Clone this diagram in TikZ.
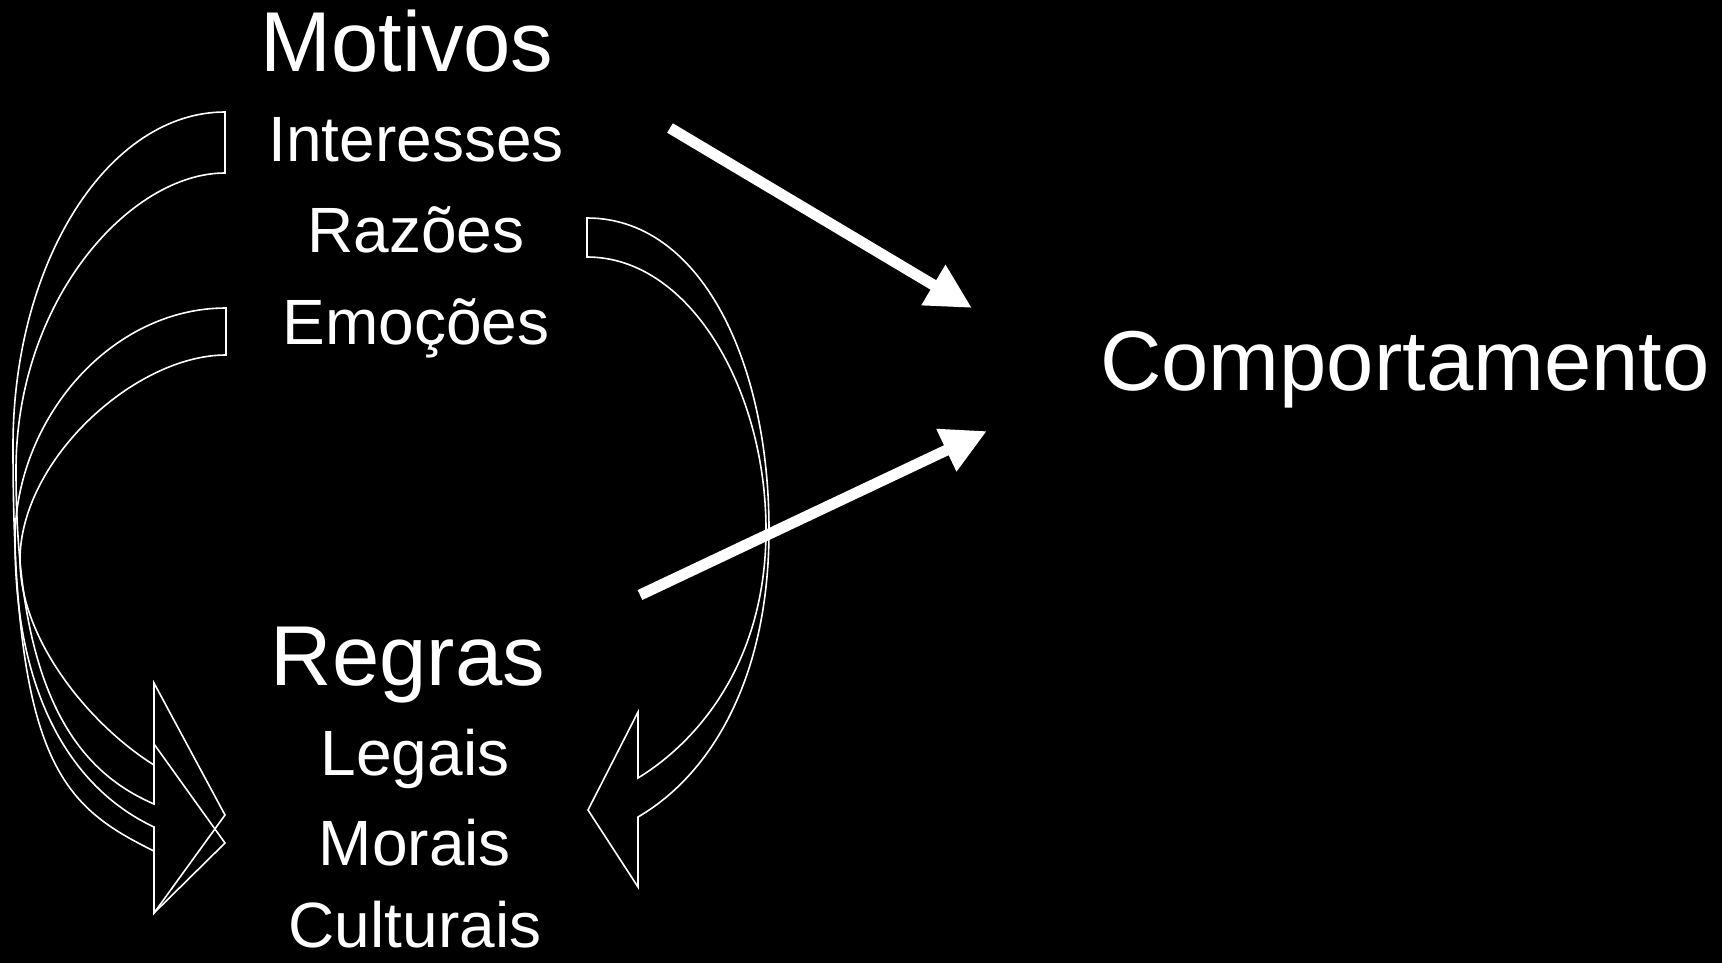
\documentclass[tikz,border=0pt]{standalone}
\usepackage{fontspec}
\setmainfont{Liberation Sans}
\usetikzlibrary{arrows.meta}

\begin{document}
\begin{tikzpicture}[x=0.5pt,y=-0.5pt,
  every node/.style={text=white,inner sep=0pt,anchor=base},
  big/.style={font=\fontsize{42.5}{50}\selectfont},
  small/.style={font=\fontsize{32}{38}\selectfont},
  curvearrow/.style={draw=white,line width=0.8pt},
  push/.style={draw=white,line width=5.5pt,-{Triangle[width=22pt,length=22.5pt]}}]
\fill[black] (0,0) rectangle (1722,963);

\node[big] (motivos) at (407,72) {Motivos};
\foreach \n/\t/\y in {inter/Interesses/162,razoes/Razões/252,emocoes/Emoções/344}
  \node[small] (\n) at (416,\y) {\t};
\node[big] (regras) at (408,685) {Regras};
\foreach \n/\t/\y in {legais/Legais/775,morais/Morais/865,culturais/Culturais/947}
  \node[small] (\n) at (415,\y) {\t};
\node[big] (comp) at (1405,390) {Comportamento};

\coordinate (m-out) at (670,128);
\coordinate (m-in) at (972,308);
\coordinate (r-out) at (640,595);
\coordinate (r-in) at (987,431);
\draw[push] (m-out) -- (m-in);
\draw[push] (r-out) -- (r-in);

% Razoes -> Legais/Morais
\draw[curvearrow] (587,218) -- (587,257)
  .. controls (690,257) and (766,390) .. (766,530)
  .. controls (766,660) and (700,740) .. (638,778)
  -- (638,712) -- (588,810) -- (638,887) -- (638,817)
  .. controls (710,775) and (769,680) .. (769,530)
  .. controls (769,360) and (700,218) .. (587,218) -- cycle;
% Interesses -> Morais
\draw[curvearrow] (225,112) -- (225,173)
  .. controls (130,173) and (16,300) .. (16,470)
  .. controls (16,690) and (75,770) .. (154,804)
  -- (154,744) -- (225,843) -- (154,913) -- (154,851)
  .. controls (60,805) and (13,760) .. (13,446)
  .. controls (13,262) and (108,112) .. (225,112) -- cycle;
% Emocoes -> Morais
\draw[curvearrow] (226,308) -- (226,355)
  .. controls (135,355) and (20,460) .. (20,560)
  .. controls (20,640) and (90,725) .. (154,765)
  -- (154,683) -- (225,815) -- (154,913) -- (154,827)
  .. controls (75,790) and (15,700) .. (15,540)
  .. controls (15,420) and (110,308) .. (226,308) -- cycle;
\end{tikzpicture}
\end{document}
